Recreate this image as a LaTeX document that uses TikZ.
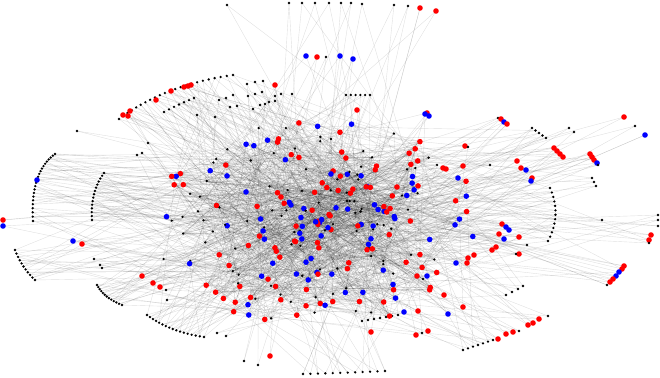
\documentclass[tikz,border=0pt]{standalone}

\tikzset{
  kdot/.style={circle, fill=black, inner sep=0pt, minimum size=2.6pt},
  rdot/.style={circle, fill=red, inner sep=0pt, minimum size=5.6pt},
  bdot/.style={circle, fill=blue, inner sep=0pt, minimum size=5.6pt},
  edge/.style={draw=black, draw opacity=0.12, line width=0.4pt},
}
\newcommand\ncent{260}
% fan of edges from one point into the core
\newcommand\linkto[2]{%
  \foreach \j in {1,...,#2}{%
    \pgfmathrandominteger{\tgt}{1}{\ncent}%
    \draw[edge] (#1) -- (c\tgt);}}
% a bent row of leaf points
\newcommand\dotrow[8]{%
  \foreach \k in {0,...,#8}{%
    \pgfmathsetmacro\tpar{\k/#8}%
    \pgfmathsetmacro\px{(1-\tpar)*(1-\tpar)*#2+2*\tpar*(1-\tpar)*#4+\tpar*\tpar*#6}%
    \pgfmathsetmacro\py{(1-\tpar)*(1-\tpar)*#3+2*\tpar*(1-\tpar)*#5+\tpar*\tpar*#7}%
    \coordinate (#1-\k) at (\px,\py);
    \linkto{#1-\k}{2}}}
\newcommand\rowlist{ta/119/119/164/85/233/75/22, tb/164/112/179/104/194/98/6,
  la/55/154/30/172/33/221/22, lb/104/173/90/192/92/220/14,
  lc/15/250/22/268/35/280/10, ld/97/285/104/298/122/305/12,
  bt/147/315/170/332/204/337/16, bb/303/374/344/373/385/371/11,
  br/463/350/478/345/493/340/6, bm/362/321/380/318/398/315/6,
  rc/550/188/562/215/548/241/12, rd/532/128/539/133/546/138/4,
  tm/346/95/358/95/370/95/5}
\newcommand\leaflist{
  227/5/kdot, 289/3/kdot, 302/3/kdot, 315/3/kdot, 329/3/kdot, 341/3/kdot,
  351/3/kdot, 362/4/kdot, 394/5/kdot, 408/6/kdot, 420/8/rdot, 436/11/rdot,
  306/56/bdot, 317/57/rdot, 326/57/kdot, 340/56/bdot, 353/59/bdot,
  123/115/rdot, 128/116/rdot, 130/111/rdot, 156/100/rdot, 171/91/rdot,
  184/87/rdot, 188/86/rdot, 191/85/rdot, 275/85/rdot,
  275/96/kdot, 281/94/kdot, 292/94/kdot, 275/101/kdot, 197/115/kdot,
  215/117/kdot, 230/107/kdot, 237/106/kdot, 77/131/kdot, 148/143/kdot,
  137/155/kdot, 142/153/kdot, 219/100/kdot, 226/98/kdot, 233/95/kdot,
  248/96/kdot, 255/94/kdot, 262/92/kdot, 247/84/kdot, 255/82/kdot,
  263/81/kdot, 253/109/kdot, 260/105/kdot, 265/104/kdot, 269/102/kdot,
  37/180/bdot, 3/220/rdot, 3/226/bdot, 73/241/bdot, 82/244/rdot,
  94/259/kdot, 100/265/kdot, 102/268/kdot,
  142/276/rdot, 153/283/rdot, 160/287/rdot, 166/290/kdot, 167/300/kdot,
  217/333/kdot, 226/336/kdot, 244/361/kdot, 258/365/kdot, 270/356/rdot,
  357/110/rdot, 427/113/rdot, 425/114/bdot, 429/116/bdot, 498/118/kdot,
  501/119/rdot, 504/122/bdot, 507/124/rdot, 569/128/kdot, 574/132/kdot,
  624/117/rdot, 635/126/kdot, 645/135/bdot,
  554/148/rdot, 557/151/rdot, 560/154/rdot, 563/157/rdot, 590/154/rdot,
  592/157/rdot, 594/160/rdot, 597/163/bdot, 598/165/kdot, 592/178/kdot,
  594/182/kdot, 596/186/kdot,
  465/146/rdot, 468/147/kdot, 463/166/rdot, 443/168/rdot, 446/169/rdot,
  458/178/bdot, 490/165/kdot, 517/161/rdot, 521/168/rdot, 526/170/bdot,
  532/178/rdot, 531/181/bdot,
  602/220/kdot, 658/215/kdot, 658/220/kdot, 658/226/kdot, 651/235/rdot,
  649/240/rdot, 649/243/kdot,
  502/224/rdot, 506/227/bdot, 509/230/bdot, 499/234/rdot, 504/239/bdot,
  519/237/rdot, 496/247/rdot, 492/250/rdot, 519/254/rdot, 516/254/kdot,
  527/245/kdot, 474/255/rdot, 468/258/rdot, 467/263/rdot, 456/263/bdot,
  624/266/rdot, 622/269/rdot, 619/272/bdot, 616/276/bdot, 613/279/rdot,
  610/282/rdot, 607/285/kdot,
  506/295/kdot, 512/292/kdot, 518/289/kdot, 523/286/kdot, 498/339/rdot,
  506/334/rdot, 513/332/rdot, 519/331/kdot, 528/325/rdot, 533/323/rdot,
  539/319/rdot, 548/316/kdot,
  371/332/rdot, 416/335/rdot, 422/333/kdot, 428/331/rdot, 444/295/rdot,
  448/314/bdot, 463/307/rdot, 404/312/bdot, 418/311/rdot, 417/276/rdot,
  427/276/bdot, 423/279/kdot}

\begin{document}
\begin{tikzpicture}[x=1pt, y=-1pt]
    \useasboundingbox (0,0) rectangle (660,377);
    \pgfmathsetseed{2718}

    % core points, kind kept for later
    \foreach \i in {1,...,\ncent}{
        \pgfmathsetmacro\ang{360*rnd}
        \pgfmathsetmacro\rad{pow(rnd,0.75)}
        \pgfmathsetmacro\cx{318+165*\rad*cos(\ang)}
        \pgfmathsetmacro\cy{222+105*\rad*sin(\ang)}
        \coordinate (c\i) at (\cx,\cy);
        \pgfmathrandominteger{\kind}{1}{20}
        \ifnum\kind<9 \expandafter\xdef\csname kind\i\endcsname{rdot}
        \else\ifnum\kind<14 \expandafter\xdef\csname kind\i\endcsname{bdot}
        \else \expandafter\xdef\csname kind\i\endcsname{kdot}
        \fi\fi
    }

    % edges
    \foreach \e in {1,...,800}{
        \pgfmathrandominteger{\ea}{1}{\ncent}
        \pgfmathrandominteger{\eb}{1}{\ncent}
        \draw[edge] (c\ea) -- (c\eb);
    }
    \foreach \nm/\xa/\ya/\xc/\yc/\xb/\yb/\num in \rowlist{
        \dotrow{\nm}{\xa}{\ya}{\xc}{\yc}{\xb}{\yb}{\num}
    }
    \foreach \x/\y/\s [count=\n] in \leaflist{
        \coordinate (p\n) at (\x,\y);
        \linkto{p\n}{2}
    }

    % dots
    \foreach \nm/\xa/\ya/\xc/\yc/\xb/\yb/\num in \rowlist{
        \foreach \k in {0,...,\num}
            \node[kdot] (\nm-dot-\k) at (\nm-\k) {};
    }
    \foreach \i in {1,...,\ncent}{
        \node[\csname kind\i\endcsname] (core\i) at (c\i) {};
    }
    \foreach \x/\y/\s [count=\n] in \leaflist{
        \node[\s] (leaf\n) at (p\n) {};
    }
\end{tikzpicture}
\end{document}
